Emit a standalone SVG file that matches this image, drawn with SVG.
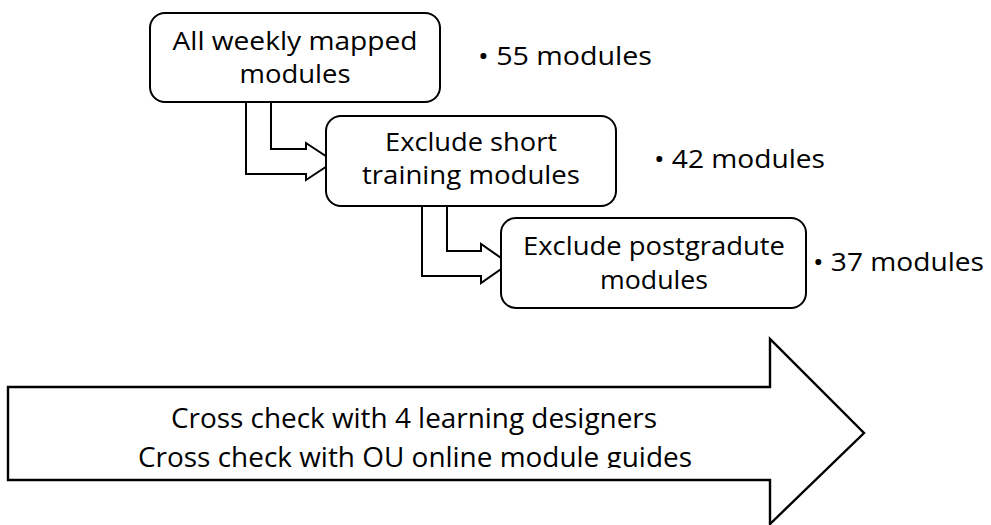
<svg xmlns="http://www.w3.org/2000/svg" width="991" height="525" viewBox="0 0 991 525">
  <style>
    .box { fill: #ffffff; stroke: #000000; stroke-width: 2; }
    .conn { fill: #ffffff; stroke: #000000; stroke-width: 2; stroke-linejoin: miter; }
    .big { fill: #ffffff; stroke: #000000; stroke-width: 2.4; stroke-linejoin: miter; }
    .t { font-family: "Open Sans", "Noto Sans", "Liberation Sans", sans-serif; font-size: 26px; fill: #000000; }
    .tc { text-anchor: middle; }
    .a { font-family: "Open Sans", "Noto Sans", "Liberation Sans", sans-serif; font-size: 27px; fill: #000000; text-anchor: middle; }
  </style>
  <defs>
    <clipPath id="shaftClip">
      <rect x="0" y="380" width="991" height="88"/>
    </clipPath>
  </defs>
  <rect width="991" height="525" fill="#ffffff"/>

  <!-- bent step arrows, drawn under the boxes so their tips are hidden -->
  <g id="connectors">
    <polygon class="conn" points="246,95 246,174 306,174 306,180 334,161.5 306,143 306,149 271,149 271,95"/>
    <polygon class="conn" points="422,200 422,276 481,276 481,283 509,263.5 481,244 481,251 447,251 447,200"/>
  </g>

  <g id="step1">
    <rect class="box" x="150" y="13" width="290" height="89" rx="15"/>
    <text class="t tc" x="295" y="50" textLength="245" lengthAdjust="spacingAndGlyphs">All weekly mapped</text>
    <text class="t tc" x="295" y="83" textLength="111" lengthAdjust="spacingAndGlyphs">modules</text>
  </g>
  <g id="count1">
    <text class="t" x="478" y="65" textLength="174" lengthAdjust="spacingAndGlyphs">• 55 modules</text>
  </g>

  <g id="step2">
    <rect class="box" x="326" y="116" width="290" height="90" rx="15"/>
    <text class="t tc" x="471" y="151" textLength="172" lengthAdjust="spacingAndGlyphs">Exclude short</text>
    <text class="t tc" x="471" y="184" textLength="218" lengthAdjust="spacingAndGlyphs">training modules</text>
  </g>
  <g id="count2">
    <text class="t" x="654" y="168" textLength="171" lengthAdjust="spacingAndGlyphs">• 42 modules</text>
  </g>

  <g id="step3">
    <rect class="box" x="501" y="218" width="305" height="90" rx="15"/>
    <text class="t tc" x="654" y="255" textLength="262" lengthAdjust="spacingAndGlyphs">Exclude postgradute</text>
    <text class="t tc" x="654" y="289" textLength="108" lengthAdjust="spacingAndGlyphs">modules</text>
  </g>
  <g id="count3">
    <text class="t" x="813" y="271" textLength="171" lengthAdjust="spacingAndGlyphs">• 37 modules</text>
  </g>

  <!-- large right-pointing block arrow with the cross-check notes -->
  <g id="crosscheck">
    <polygon class="big" points="8,387 770,387 770,339 864,433 770,524 770,480 8,480"/>
    <g clip-path="url(#shaftClip)">
      <text class="a" x="414" y="428" textLength="486" lengthAdjust="spacingAndGlyphs">Cross check with 4 learning designers</text>
      <text class="a" x="415" y="467" textLength="554" lengthAdjust="spacingAndGlyphs">Cross check with OU online module guides</text>
    </g>
  </g>
</svg>
